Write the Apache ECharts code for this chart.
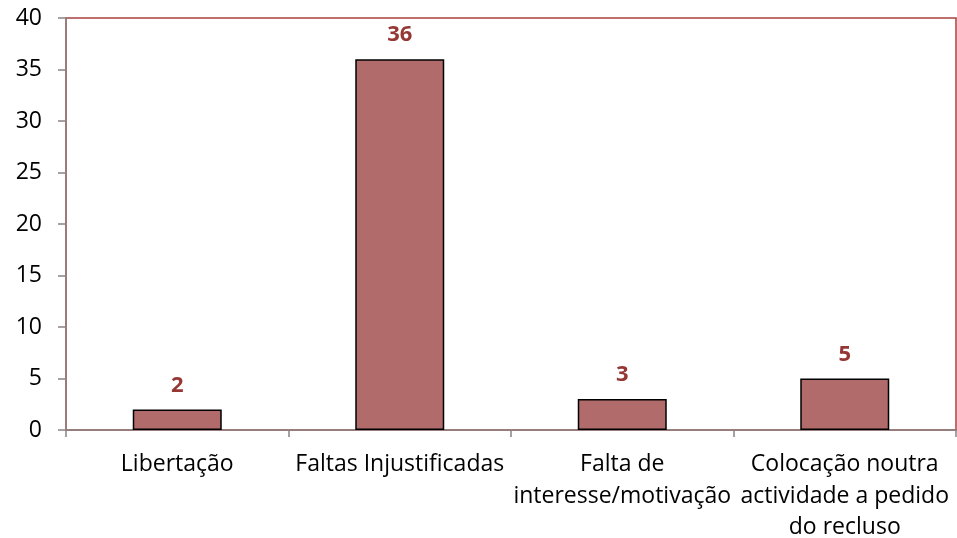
<!DOCTYPE html>
<html>
<head>
<meta charset="utf-8">
<script src="https://cdn.jsdelivr.net/npm/echarts@6/dist/echarts.min.js"></script>
<style>html,body{margin:0;padding:0;background:#fff}#c{width:957px;height:538px}</style>
</head>
<body>
<div id="c"></div>
<script>
const categories = ["Libertação", "Faltas Injustificadas", "Falta de\ninteresse/motivação", "Colocação noutra\nactividade a pedido\ndo recluso"];
const values = [2, 36, 3, 5];
const yTicks = { min: 0, max: 40, interval: 5 };

const chart = echarts.init(document.getElementById('c'), null, { renderer: 'canvas' });
const font = '"Open Sans", sans-serif';
chart.setOption({
  animation: false,
  grid: { left: 66, right: 1, top: 18, bottom: 108, containLabel: false, outerBoundsMode: 'none', show: true, borderColor: '#a6403e', borderWidth: 1.5, backgroundColor: 'transparent' },
  xAxis: {
    type: 'category',
    data: categories,
    axisLine: { lineStyle: { color: '#8c8282', width: 1.5 } },
    axisTick: { show: true, length: 7, lineStyle: { color: '#8c8282', width: 1.5 } },
    axisLabel: { interval: 0, color: '#000', fontFamily: font, fontSize: 23, lineHeight: 31.5, margin: 19 }
  },
  yAxis: {
    type: 'value',
    min: yTicks.min, max: yTicks.max, interval: yTicks.interval,
    splitLine: { show: false },
    axisLine: { show: true, lineStyle: { color: '#8c8282', width: 1.5 } },
    axisTick: { show: true, length: 8, lineStyle: { color: '#8c8282', width: 1.5 } },
    axisLabel: { color: '#000', fontFamily: font, fontSize: 23, margin: 24 }
  },
  series: [{
    type: 'bar',
    data: values,
    barWidth: '40%',
    itemStyle: { color: '#b06b6a', borderColor: '#000', borderWidth: 1.5 },
    label: { show: true, position: 'top', distance: 13, color: '#953735', fontFamily: font, fontWeight: 'bold', fontSize: 22 }
  }]
});
</script>
</body>
</html>
